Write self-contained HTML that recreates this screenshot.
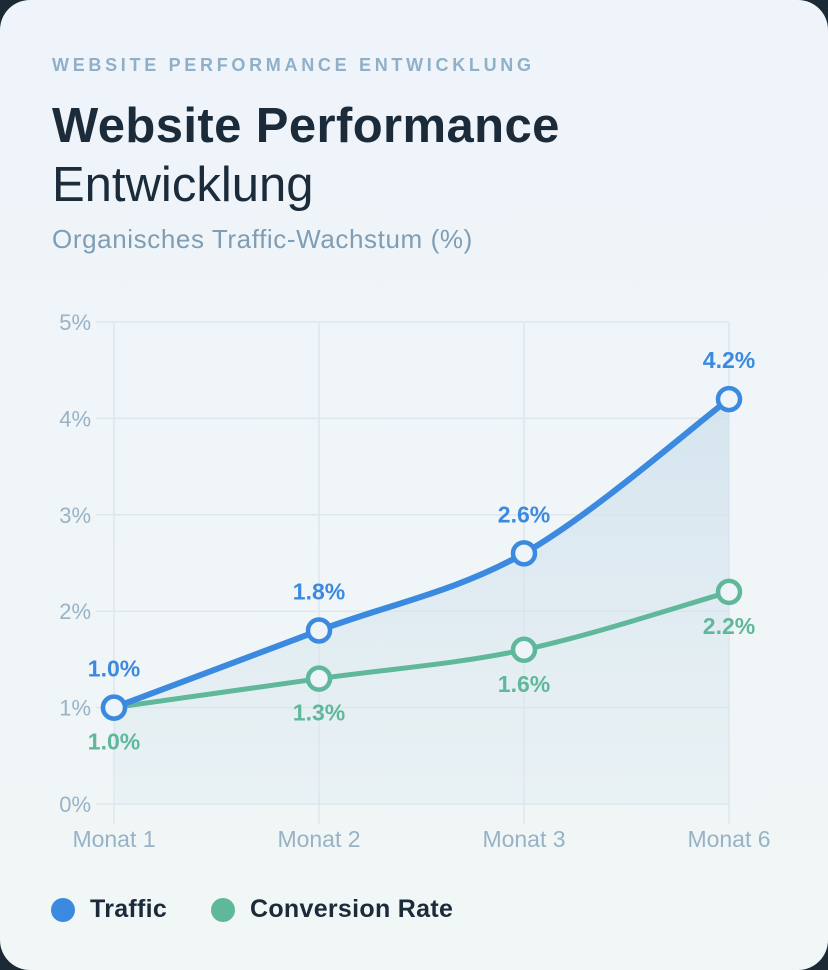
<!DOCTYPE html>
<html><head><meta charset="utf-8"><style>
html,body{margin:0;padding:0;background:#1c2a36;width:828px;height:970px;overflow:hidden}
.card{position:absolute;left:0;top:0;width:828px;height:970px;border-radius:30px;background:linear-gradient(180deg,#eef4fa,#f1f6f6);font-family:"Liberation Sans",sans-serif}
.over{position:absolute;left:52px;top:55px;font-size:18px;font-weight:bold;letter-spacing:3.7px;color:#8fb0c8}
.t1{position:absolute;left:52px;top:98px;font-size:49px;font-weight:bold;color:#1b2b3a;letter-spacing:0.4px}
.t2{position:absolute;left:52px;top:157px;font-size:49px;color:#1b2b3a}
.sub{position:absolute;left:52px;top:224px;font-size:26px;letter-spacing:0.6px;color:#7f9db4}
svg{position:absolute;left:0;top:0}
.leg{position:absolute;top:895px;font-size:25px;font-weight:bold;color:#1b2b3a;display:flex;align-items:center;letter-spacing:0.3px}
.dot{width:24px;height:24px;border-radius:50%;margin-right:15px}
</style></head><body>
<div class="card">
<div class="over">WEBSITE PERFORMANCE ENTWICKLUNG</div>
<div class="t1">Website Performance</div>
<div class="t2">Entwicklung</div>
<div class="sub">Organisches Traffic-Wachstum (%)</div>
<svg id="chart" width="828" height="970">
<defs><linearGradient id="ag" x1="0" y1="0" x2="0" y2="1"><stop offset="0" stop-color="#cfe0ec" stop-opacity="0.8"/><stop offset="1" stop-color="#d8e8ee" stop-opacity="0.3"/></linearGradient></defs>
</svg>
<div class="leg" style="left:51px"><div class="dot" style="background:#3b8ae0"></div>Traffic</div>
<div class="leg" style="left:211px"><div class="dot" style="background:#5fb89a"></div>Conversion Rate</div>
</div>
<script>
const categories=["Monat 1","Monat 2","Monat 3","Monat 6"];
const traffic=[1.0,1.8,2.6,4.2];
const conversion=[1.0,1.3,1.6,2.2];
const yTicks=[0,1,2,3,4,5];
const NS="http://www.w3.org/2000/svg";
const svg=document.getElementById('chart');
const x0=114,x1=729,yb=804,yt=322,ymax=5;
const X=i=>x0+i*(x1-x0)/(categories.length-1);
const Y=v=>yb-v/ymax*(yb-yt);
function el(t,a,p){const e=document.createElementNS(NS,t);for(const k in a)e.setAttribute(k,a[k]);(p||svg).appendChild(e);return e;}
yTicks.forEach(t=>{
 const g=el('line',{x1:96,x2:x1,y1:Y(t),y2:Y(t),stroke:'#dfe6ec','stroke-width':1.5});
 
 
 const tx=el('text',{x:91,y:Y(t)+8,'text-anchor':'end','font-size':22,fill:'#98b2c6','font-family':'Liberation Sans, sans-serif'});
 tx.textContent=t+'%';
 
 
});
categories.forEach((c,i)=>{
 const g=el('line',{x1:X(i),x2:X(i),y1:yt,y2:yb+20,stroke:'#dfe6ec','stroke-width':1.5});
 
 
 const tx=el('text',{x:X(i),y:847,'text-anchor':'middle','font-size':23,fill:'#98b2c6','font-family':'Liberation Sans, sans-serif'});
 tx.textContent=c;
 
 
});
function path(vals){
 const p=vals.map((v,i)=>[X(i),Y(v)]);
 let d='M'+p[0][0]+','+p[0][1];
 for(let i=0;i<p.length-1;i++){
  const a=p[i-1]||p[i],b=p[i],c=p[i+1],e=p[i+2]||c,k=1/6;
  d+=' C'+(b[0]+(c[0]-a[0])*k)+','+(b[1]+(c[1]-a[1])*k)+' '+(c[0]-(e[0]-b[0])*k)+','+(c[1]-(e[1]-b[1])*k)+' '+c[0]+','+c[1];
 }
 return d;
}
const area=el('path',{d:path(traffic)+' L'+X(traffic.length-1)+','+yb+' L'+X(0)+','+yb+' Z',fill:'url(#ag)'});


[[conversion,'#5fb89a','conversion'],[traffic,'#3b8ae0','traffic']].forEach(([vals,col,nm])=>{
 const l=el('path',{d:path(vals),fill:'none',stroke:col,'stroke-width':nm=='traffic'?6:5,'stroke-linecap':'round'});
 
 
});
[[conversion,'#5fb89a','conversion',1],[traffic,'#3b8ae0','traffic',-1]].forEach(([vals,col,nm,dir])=>{
 vals.forEach((v,i)=>{
  const c=el('circle',{cx:X(i),cy:Y(v),r:11,fill:'#eef4f7',stroke:col,'stroke-width':4.5});
  
  
  const t=el('text',{x:X(i),y:Y(v)+(dir>0?42:-31),'text-anchor':'middle','font-size':23,'font-weight':'bold',fill:col,'font-family':'Liberation Sans, sans-serif'});
  t.textContent=v.toFixed(1)+'%';
  
  
 });
});
</script>
</body></html>
